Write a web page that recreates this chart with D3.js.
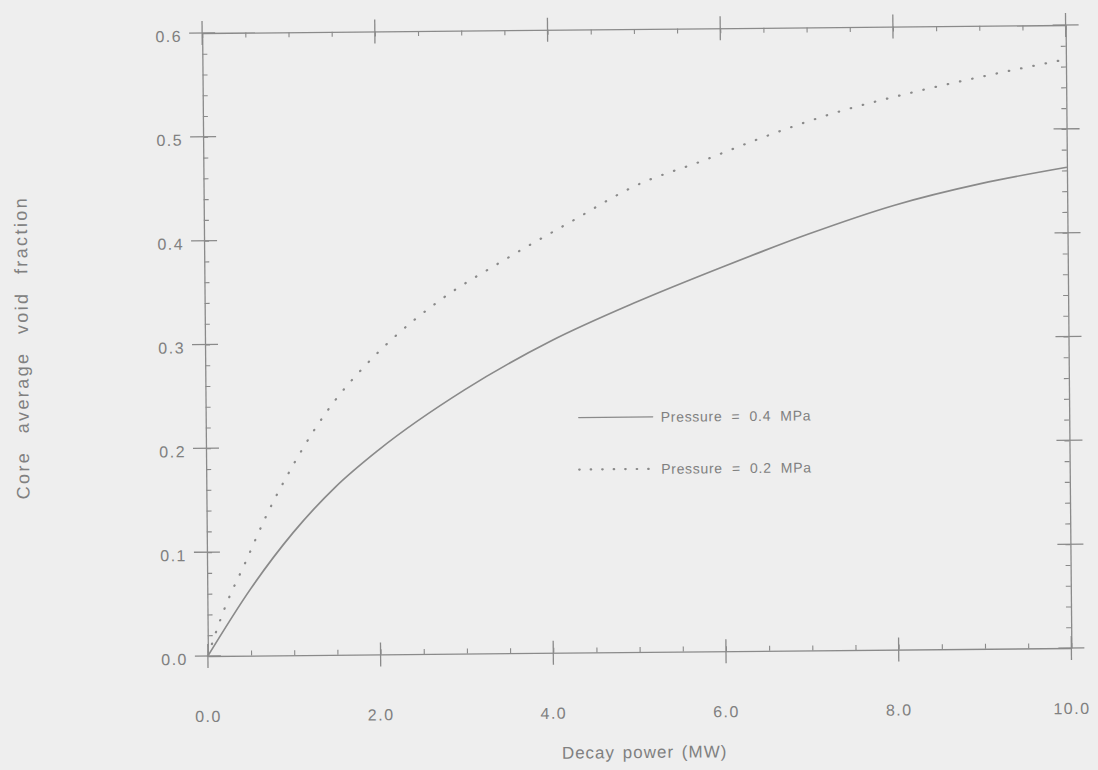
<!DOCTYPE html>
<html>
<head>
<meta charset="utf-8">
<script src="https://cdn.jsdelivr.net/npm/d3@7"></script>
<style>
  html, body { margin: 0; padding: 0; background: #eeeeee; }
  svg { display: block; }
  text { font-family: "Liberation Sans", Arial, sans-serif; fill: #808080; }
</style>
</head>
<body>
<script>
// decay power (MW) and void fraction
var powerHi = [0, 0.5, 1.0, 1.5, 2.0, 3.0, 4.0, 5.0, 6.0, 7.0, 8.0, 9.0, 10.0];
var voidHi  = [0, 0.064, 0.118, 0.162, 0.197, 0.254, 0.300, 0.337, 0.370, 0.401, 0.428, 0.448, 0.463];

var powerLo = [0, 0.2, 0.44, 0.7, 1.0, 1.25, 1.5, 1.85, 2.2, 2.7, 3.5, 4.25, 5.0, 5.8, 6.4, 7.3, 8.3, 9.2, 10.0];
var voidLo  = [0, 0.046, 0.089, 0.136, 0.182, 0.216, 0.245, 0.278, 0.306, 0.339, 0.380, 0.415, 0.449, 0.473, 0.492, 0.517, 0.538, 0.554, 0.567];

var xTicks = [0, 2, 4, 6, 8, 10];
var xTickLabels = ['0.0', '2.0', '4.0', '6.0', '8.0', '10.0'];
var yTicks = [0, 0.1, 0.2, 0.3, 0.4, 0.5, 0.6];
var yTickLabels = ['0.0', '0.1', '0.2', '0.3', '0.4', '0.5', '0.6'];

var legendLabels = ['Pressure  =  0.4  MPa', 'Pressure  =  0.2  MPa'];

var W = 1098, H = 770;
var mLeft = 205, mRight = 1068.5, mTop = 29, mBottom = 652;
var ink = '#8a8a8a';

var svg = d3.select('body').append('svg')
   .attr('width', W)
   .attr('height', H);
svg.append('rect')
   .attr('width', W)
   .attr('height', H)
   .attr('fill', '#eeeeee');

// the scan is a little crooked, so turn the whole chart a touch
var cx = (mLeft + mRight) / 2, cy = (mTop + mBottom) / 2;
var g = svg.append('g')
   .attr('transform', 'rotate(-0.53,' + cx + ',' + cy + ')');

var x = d3.scaleLinear().domain([0, 10]).range([mLeft, mRight]);
var y = d3.scaleLinear().domain([0, 0.6]).range([mBottom, mTop]);

var xMinor = x.ticks(20);
var yMinor = y.ticks(30);

function styleAxis(sel) {
  sel.selectAll('path.domain').attr('stroke', ink).attr('stroke-width', 1.3);
  sel.selectAll('.tick line').attr('stroke', ink).attr('stroke-width', 1.1);
  sel.selectAll('.tick text').remove();
}

// minor ticks point inward on all four sides
g.append('g').attr('transform', 'translate(0,' + mBottom + ')')
   .call(d3.axisBottom(x).tickValues(xMinor).tickSizeInner(-5).tickSizeOuter(0))
   .call(styleAxis);
g.append('g').attr('transform', 'translate(0,' + mTop + ')')
   .call(d3.axisTop(x).tickValues(xMinor).tickSizeInner(-5).tickSizeOuter(0))
   .call(styleAxis);
g.append('g').attr('transform', 'translate(' + mLeft + ',0)')
   .call(d3.axisLeft(y).tickValues(yMinor).tickSizeInner(-5).tickSizeOuter(0))
   .call(styleAxis);
g.append('g').attr('transform', 'translate(' + mRight + ',0)')
   .call(d3.axisRight(y).tickValues(yMinor).tickSizeInner(-5).tickSizeOuter(0))
   .call(styleAxis);

// major ticks cross the frame
var major = g.append('g').attr('stroke', ink).attr('stroke-width', 1.3);
[mBottom, mTop].forEach(function(yy) {
  major.selectAll(null).data(xTicks).enter().append('line')
     .attr('x1', function(d) { return x(d); })
     .attr('x2', function(d) { return x(d); })
     .attr('y1', yy - 12)
     .attr('y2', yy + 12);
});
[mLeft, mRight].forEach(function(xx) {
  major.selectAll(null).data(yTicks).enter().append('line')
     .attr('y1', function(d) { return y(d); })
     .attr('y2', function(d) { return y(d); })
     .attr('x1', xx - 13)
     .attr('x2', xx + 13);
});

// tick labels
g.selectAll('text.xl').data(xTicks).enter().append('text')
   .attr('class', 'xl')
   .attr('x', function(d) { return x(d); })
   .attr('y', mBottom + 66)
   .attr('text-anchor', 'middle')
   .style('font-size', '16px')
   .style('letter-spacing', '1.5px')
   .text(function(d, i) { return xTickLabels[i]; });

g.selectAll('text.yl').data(yTicks).enter().append('text')
   .attr('class', 'yl')
   .attr('x', mLeft - 20)
   .attr('y', function(d) { return y(d) + 3; })
   .attr('dy', '0.36em')
   .attr('text-anchor', 'end')
   .style('font-size', '16px')
   .style('letter-spacing', '1.5px')
   .text(function(d, i) { return yTickLabels[i]; });

// axis titles
g.append('text')
   .attr('x', cx + 4)
   .attr('y', mBottom + 106)
   .attr('text-anchor', 'middle')
   .style('font-size', '17px')
   .style('letter-spacing', '1px')
   .style('word-spacing', '2px')
   .text('Decay power (MW)');

g.append('text')
   .attr('transform', 'translate(28,' + 342 + ') rotate(-90)')
   .attr('text-anchor', 'middle')
   .style('font-size', '18px')
   .style('letter-spacing', '2.4px')
   .style('word-spacing', '10px')
   .text('Core average void fraction');

// curves
var line = d3.line()
   .x(function(d) { return x(d[0]); })
   .y(function(d) { return y(d[1]); })
   .curve(d3.curveMonotoneX);

g.append('path')
   .datum(d3.zip(powerHi, voidHi))
   .attr('d', line)
   .attr('fill', 'none')
   .attr('stroke', ink)
   .attr('stroke-width', 1.7);

g.append('path')
   .datum(d3.zip(powerLo, voidLo))
   .attr('d', line)
   .attr('fill', 'none')
   .attr('stroke', ink)
   .attr('stroke-width', 2.2)
   .attr('stroke-linecap', 'round')
   .attr('stroke-dasharray', '0.5,12');

// legend
var leg = g.append('g');
var legY = [417, 469];
leg.selectAll('line').data(legendLabels).enter().append('line')
   .attr('x1', 578)
   .attr('x2', 652)
   .attr('y1', function(d, i) { return legY[i]; })
   .attr('y2', function(d, i) { return legY[i]; })
   .attr('stroke', ink)
   .attr('stroke-width', function(d, i) { return i ? 2.2 : 1.3; })
   .attr('stroke-linecap', 'round')
   .attr('stroke-dasharray', function(d, i) { return i ? '0.5,11' : null; });
leg.selectAll('text').data(legendLabels).enter().append('text')
   .attr('x', 660)
   .attr('y', function(d, i) { return legY[i]; })
   .attr('dy', '0.36em')
   .style('font-size', '14px')
   .style('letter-spacing', '0.7px')
   .style('white-space', 'pre')
   .text(function(d) { return d; });
</script>
</body>
</html>
